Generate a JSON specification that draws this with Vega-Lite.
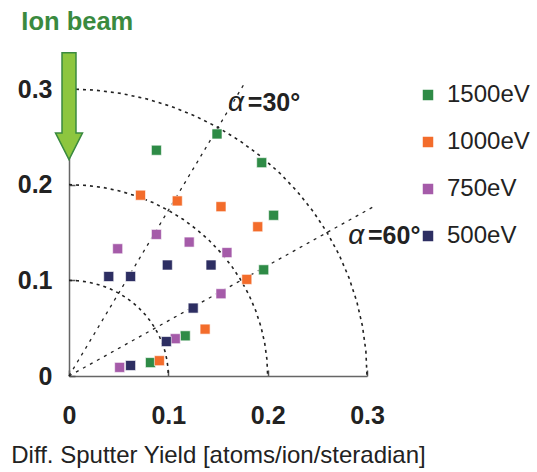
{
  "$schema": "https://vega.github.io/schema/vega-lite/v6.json",
  "autosize": "none",
  "width": 298,
  "height": 287,
  "padding": {"left": 69, "top": 89, "right": 170, "bottom": 96},
  "background": "white",
  "config": {"view": {"stroke": null}, "font": "Liberation Sans"},
  "datasets": {
    "pts": [
      {"energy": "1500eV", "x": 0.149, "y": 0.253},
      {"energy": "1500eV", "x": 0.088, "y": 0.236},
      {"energy": "1500eV", "x": 0.194, "y": 0.223},
      {"energy": "1500eV", "x": 0.206, "y": 0.168},
      {"energy": "1500eV", "x": 0.196, "y": 0.111},
      {"energy": "1500eV", "x": 0.117, "y": 0.042},
      {"energy": "1500eV", "x": 0.082, "y": 0.014},
      {"energy": "1000eV", "x": 0.072, "y": 0.189},
      {"energy": "1000eV", "x": 0.109, "y": 0.183},
      {"energy": "1000eV", "x": 0.153, "y": 0.177},
      {"energy": "1000eV", "x": 0.190, "y": 0.156},
      {"energy": "1000eV", "x": 0.179, "y": 0.101},
      {"energy": "1000eV", "x": 0.137, "y": 0.049},
      {"energy": "1000eV", "x": 0.091, "y": 0.016},
      {"energy": "750eV", "x": 0.088, "y": 0.148},
      {"energy": "750eV", "x": 0.049, "y": 0.133},
      {"energy": "750eV", "x": 0.121, "y": 0.140},
      {"energy": "750eV", "x": 0.159, "y": 0.129},
      {"energy": "750eV", "x": 0.153, "y": 0.086},
      {"energy": "750eV", "x": 0.107, "y": 0.039},
      {"energy": "750eV", "x": 0.051, "y": 0.009},
      {"energy": "500eV", "x": 0.040, "y": 0.104},
      {"energy": "500eV", "x": 0.062, "y": 0.104},
      {"energy": "500eV", "x": 0.099, "y": 0.116},
      {"energy": "500eV", "x": 0.143, "y": 0.116},
      {"energy": "500eV", "x": 0.125, "y": 0.071},
      {"energy": "500eV", "x": 0.098, "y": 0.036},
      {"energy": "500eV", "x": 0.062, "y": 0.011}
    ],
    "arcs": [
      {"r": 0.1, "i": 0, "x": 0, "y": 0.1},
      {"r": 0.1, "i": 1, "x": 0.00872, "y": 0.09962},
      {"r": 0.1, "i": 2, "x": 0.01736, "y": 0.09848},
      {"r": 0.1, "i": 3, "x": 0.02588, "y": 0.09659},
      {"r": 0.1, "i": 4, "x": 0.0342, "y": 0.09397},
      {"r": 0.1, "i": 5, "x": 0.04226, "y": 0.09063},
      {"r": 0.1, "i": 6, "x": 0.05, "y": 0.0866},
      {"r": 0.1, "i": 7, "x": 0.05736, "y": 0.08192},
      {"r": 0.1, "i": 8, "x": 0.06428, "y": 0.0766},
      {"r": 0.1, "i": 9, "x": 0.07071, "y": 0.07071},
      {"r": 0.1, "i": 10, "x": 0.0766, "y": 0.06428},
      {"r": 0.1, "i": 11, "x": 0.08192, "y": 0.05736},
      {"r": 0.1, "i": 12, "x": 0.0866, "y": 0.05},
      {"r": 0.1, "i": 13, "x": 0.09063, "y": 0.04226},
      {"r": 0.1, "i": 14, "x": 0.09397, "y": 0.0342},
      {"r": 0.1, "i": 15, "x": 0.09659, "y": 0.02588},
      {"r": 0.1, "i": 16, "x": 0.09848, "y": 0.01736},
      {"r": 0.1, "i": 17, "x": 0.09962, "y": 0.00872},
      {"r": 0.1, "i": 18, "x": 0.1, "y": 0},
      {"r": 0.2, "i": 0, "x": 0, "y": 0.2},
      {"r": 0.2, "i": 1, "x": 0.01744, "y": 0.19924},
      {"r": 0.2, "i": 2, "x": 0.03472, "y": 0.19696},
      {"r": 0.2, "i": 3, "x": 0.05176, "y": 0.19318},
      {"r": 0.2, "i": 4, "x": 0.0684, "y": 0.18794},
      {"r": 0.2, "i": 5, "x": 0.08452, "y": 0.18126},
      {"r": 0.2, "i": 6, "x": 0.1, "y": 0.1732},
      {"r": 0.2, "i": 7, "x": 0.11472, "y": 0.16384},
      {"r": 0.2, "i": 8, "x": 0.12856, "y": 0.1532},
      {"r": 0.2, "i": 9, "x": 0.14142, "y": 0.14142},
      {"r": 0.2, "i": 10, "x": 0.1532, "y": 0.12856},
      {"r": 0.2, "i": 11, "x": 0.16384, "y": 0.11472},
      {"r": 0.2, "i": 12, "x": 0.1732, "y": 0.1},
      {"r": 0.2, "i": 13, "x": 0.18126, "y": 0.08452},
      {"r": 0.2, "i": 14, "x": 0.18794, "y": 0.0684},
      {"r": 0.2, "i": 15, "x": 0.19318, "y": 0.05176},
      {"r": 0.2, "i": 16, "x": 0.19696, "y": 0.03472},
      {"r": 0.2, "i": 17, "x": 0.19924, "y": 0.01744},
      {"r": 0.2, "i": 18, "x": 0.2, "y": 0},
      {"r": 0.3, "i": 0, "x": 0, "y": 0.3},
      {"r": 0.3, "i": 1, "x": 0.02616, "y": 0.29886},
      {"r": 0.3, "i": 2, "x": 0.05208, "y": 0.29544},
      {"r": 0.3, "i": 3, "x": 0.07764, "y": 0.28977},
      {"r": 0.3, "i": 4, "x": 0.1026, "y": 0.28191},
      {"r": 0.3, "i": 5, "x": 0.12678, "y": 0.27189},
      {"r": 0.3, "i": 6, "x": 0.15, "y": 0.2598},
      {"r": 0.3, "i": 7, "x": 0.17208, "y": 0.24576},
      {"r": 0.3, "i": 8, "x": 0.19284, "y": 0.2298},
      {"r": 0.3, "i": 9, "x": 0.21213, "y": 0.21213},
      {"r": 0.3, "i": 10, "x": 0.2298, "y": 0.19284},
      {"r": 0.3, "i": 11, "x": 0.24576, "y": 0.17208},
      {"r": 0.3, "i": 12, "x": 0.2598, "y": 0.15},
      {"r": 0.3, "i": 13, "x": 0.27189, "y": 0.12678},
      {"r": 0.3, "i": 14, "x": 0.28191, "y": 0.1026},
      {"r": 0.3, "i": 15, "x": 0.28977, "y": 0.07764},
      {"r": 0.3, "i": 16, "x": 0.29544, "y": 0.05208},
      {"r": 0.3, "i": 17, "x": 0.29886, "y": 0.02616},
      {"r": 0.3, "i": 18, "x": 0.3, "y": 0}
    ],
    "rays": [
      {"a": "30", "i": 0, "x": 0, "y": 0},
      {"a": "30", "i": 1, "x": 0.1775, "y": 0.3074},
      {"a": "60", "i": 0, "x": 0, "y": 0},
      {"a": "60", "i": 1, "x": 0.3074, "y": 0.1775}
    ],
    "alpha": [
      {"x": 0.160, "y": 0.285, "t": "α"},
      {"x": 0.281, "y": 0.146, "t": "α"}
    ],
    "angles": [
      {"x": 0.180, "y": 0.285, "t": "=30°"},
      {"x": 0.301, "y": 0.146, "t": "=60°"}
    ],
    "beam": [{"x": 0, "y": 0.282, "t": "Ion beam", "tx": -0.048, "ty": 0.370}]
  },
  "layer": [
    {
      "data": {"name": "arcs"},
      "mark": {"type": "line", "color": "#222222", "strokeWidth": 1.6, "strokeDash": [3, 4], "clip": false},
      "encoding": {
        "x": {"field": "x", "type": "quantitative"},
        "y": {"field": "y", "type": "quantitative"},
        "detail": {"field": "r"},
        "order": {"field": "i"}
      }
    },
    {
      "data": {"name": "rays"},
      "mark": {"type": "line", "color": "#222222", "strokeWidth": 1.3, "strokeDash": [3, 5], "clip": false},
      "encoding": {
        "x": {"field": "x", "type": "quantitative"},
        "y": {"field": "y", "type": "quantitative"},
        "detail": {"field": "a"},
        "order": {"field": "i"}
      }
    },
    {
      "data": {"name": "pts"},
      "mark": {"type": "point", "shape": "square", "filled": true, "opacity": 1, "size": 100, "stroke": "white", "strokeWidth": 0.6},
      "encoding": {
        "x": {
          "field": "x", "type": "quantitative",
          "scale": {"domain": [0, 0.3], "nice": false, "zero": true},
          "axis": {
            "values": [0, 0.1, 0.2, 0.3], "format": "~g", "grid": false,
            "title": "Diff. Sputter Yield [atoms/ion/steradian]",
            "titleFont": "Liberation Sans", "titleFontSize": 24, "titleFontWeight": "normal", "titleColor": "#222222",
            "titlePadding": 15,
            "labelFont": "Liberation Sans", "labelFontSize": 25, "labelFontWeight": "bold", "labelColor": "#222222",
            "labelPadding": 33, "tickSize": -6, "tickColor": "#555555", "tickWidth": 1.5,
            "domainColor": "#666666", "domainWidth": 1.5, "labelFlush": false
          }
        },
        "y": {
          "field": "y", "type": "quantitative",
          "scale": {"domain": [0, 0.3], "nice": false, "zero": true},
          "axis": {
            "values": [0, 0.1, 0.2, 0.3], "format": "~g", "grid": false, "title": null,
            "labelFont": "Liberation Sans", "labelFontSize": 25, "labelFontWeight": "bold", "labelColor": "#222222",
            "labelPadding": 23, "tickSize": -6, "tickColor": "#555555", "tickWidth": 1.5,
            "domainColor": "#666666", "domainWidth": 1.5, "labelFlush": false
          }
        },
        "color": {
          "field": "energy", "type": "nominal",
          "scale": {"domain": ["1500eV", "1000eV", "750eV", "500eV"], "range": ["#2e8b46", "#f36c2b", "#a55ba9", "#2d2e62"]},
          "legend": {
            "title": null, "orient": "none", "legendX": 347, "legendY": -6,
            "symbolType": "square", "symbolSize": 110, "symbolStrokeWidth": 0,
            "labelFont": "Liberation Sans", "labelFontSize": 24, "labelColor": "#222222",
            "labelOffset": 7, "rowPadding": 23, "padding": 0
          }
        }
      }
    },
    {
      "data": {"name": "alpha"},
      "mark": {"type": "text", "align": "left", "baseline": "middle", "fontSize": 28, "fontStyle": "italic", "font": "Liberation Sans", "color": "#222222"},
      "encoding": {
        "x": {"field": "x", "type": "quantitative"},
        "y": {"field": "y", "type": "quantitative"},
        "text": {"field": "t"}
      }
    },
    {
      "data": {"name": "angles"},
      "mark": {"type": "text", "align": "left", "baseline": "middle", "fontSize": 25, "fontWeight": "bold", "font": "Liberation Sans", "color": "#222222"},
      "encoding": {
        "x": {"field": "x", "type": "quantitative"},
        "y": {"field": "y", "type": "quantitative"},
        "text": {"field": "t"}
      }
    },
    {
      "data": {"name": "beam"},
      "mark": {"type": "point", "filled": true, "opacity": 1, "size": 11385, "fill": "#8dc63f", "stroke": "#3a8a3f", "strokeWidth": 1.5,
        "shape": "M-0.131,-1 L0.131,-1 L0.131,0.5 L0.253,0.5 L0,1 L-0.253,0.5 L-0.131,0.5 Z"},
      "encoding": {
        "x": {"field": "x", "type": "quantitative"},
        "y": {"field": "y", "type": "quantitative"}
      }
    },
    {
      "data": {"name": "beam"},
      "mark": {"type": "text", "align": "left", "baseline": "middle", "fontSize": 25.5, "fontWeight": "bold", "font": "Liberation Sans", "color": "#3a8a3f"},
      "encoding": {
        "x": {"field": "tx", "type": "quantitative"},
        "y": {"field": "ty", "type": "quantitative"},
        "text": {"field": "t"}
      }
    }
  ]
}
